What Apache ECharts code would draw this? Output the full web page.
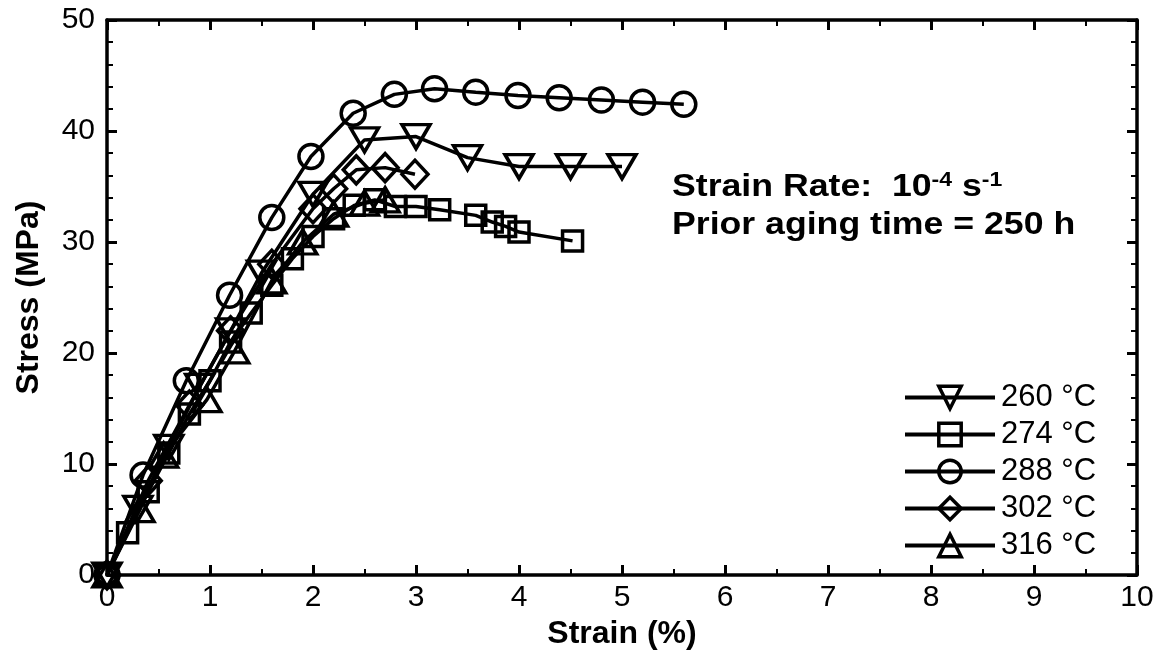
<!DOCTYPE html>
<html>
<head>
<meta charset="utf-8">
<script src="https://cdn.jsdelivr.net/npm/echarts@6/dist/echarts.min.js"></script>
<style>html,body{margin:0;padding:0;background:#fff}#c{width:1162px;height:655px}</style>
</head>
<body>
<div id="c"></div>
<script>
const seriesNames = ['260 °C', '274 °C', '288 °C', '302 °C', '316 °C'];
const s260 = [[0,0],[0.3,6],[0.6,11.5],[0.9,17],[1.2,22],[1.5,27.2],[2.0,34.3],[2.5,39.2],[3.0,39.5],[3.5,37.6],[4.0,36.8],[4.5,36.8],[5.0,36.8]];
const s274 = [[0,0],[0.2,3.8],[0.4,7.5],[0.6,11],[0.8,14.5],[1.0,17.5],[1.2,21],[1.4,23.6],[1.6,26.1],[1.8,28.5],[2.0,30.5],[2.2,32.1],[2.4,33.3],[2.6,33.8],[2.8,33.2],[3.0,33.2],[3.23,32.9],[3.58,32.4],[3.74,31.8],[3.87,31.4],[4.0,30.9],[4.52,30.1]];
const s288 = [[0,0],[0.35,9],[0.77,17.5],[1.19,25.2],[1.6,32.2],[1.98,37.7],[2.39,41.6],[2.79,43.3],[3.18,43.8],[3.58,43.5],[3.99,43.2],[4.39,43.0],[4.8,42.8],[5.2,42.6],[5.6,42.4]];
const s302 = [[0,0],[0.4,8.5],[0.8,15.3],[1.2,22],[1.6,28],[2.0,33],[2.2,34.8],[2.42,36.5],[2.7,36.7],[2.99,36.1]];
const s316 = [[0,0],[0.32,5.9],[0.55,10.8],[0.97,15.8],[1.24,20.2],[1.6,26.5],[1.9,30],[2.2,32.5],[2.5,33.5],[2.7,33.8]];
const xTicks = [0,1,2,3,4,5,6,7,8,9,10];
const yTicks = [0,10,20,30,40,50];

const chart = echarts.init(document.getElementById('c'));
const F = 'Liberation Sans, Arial, sans-serif';
function mk(name, data, symbol, size, rotate) {
  return {
    name: name, type: 'line', data: data, symbol: symbol, symbolSize: size, symbolRotate: rotate || 0,
    showAllSymbol: true, animation: false,
    lineStyle: {color: '#000', width: 3.5},
    itemStyle: {color: 'rgba(255,255,255,0)', borderColor: '#000', borderWidth: 3.5},
    emphasis: {disabled: true}
  };
}
const axLine = {show: true, onZero: false, lineStyle: {color: '#000', width: 3.5}};
const axTick = {show: true, inside: true, length: 10, lineStyle: {color: '#000', width: 3}};
function minor(n) { return {show: true, splitNumber: n, length: 6, lineStyle: {color: '#000', width: 2}}; }
chart.setOption({
  backgroundColor: '#fff',
  animation: false,
  grid: {left: 107, right: 25, top: 20, bottom: 80},
  xAxis: [
    {type: 'value', min: 0, max: 10, interval: 1, position: 'bottom',
      name: 'Strain (%)', nameLocation: 'middle', nameGap: 43,
      nameTextStyle: {fontFamily: F, fontSize: 32, fontWeight: 'bold', color: '#000'},
      axisLabel: {fontFamily: F, fontSize: 30, color: '#000', margin: 8, formatter: v => xTicks.includes(v) ? String(v) : ''},
      axisLine: axLine, axisTick: axTick, minorTick: minor(2), splitLine: {show: false}},
    {type: 'value', min: 0, max: 10, interval: 1, position: 'top', axisLabel: {show: false},
      axisLine: axLine, axisTick: axTick, minorTick: minor(2), splitLine: {show: false}}
  ],
  yAxis: [
    {type: 'value', min: 0, max: 50, interval: 10, position: 'left',
      name: 'Stress (MPa)', nameLocation: 'middle', nameGap: 62, nameRotate: 90,
      nameTextStyle: {fontFamily: F, fontSize: 32, fontWeight: 'bold', color: '#000'},
      axisLabel: {fontFamily: F, fontSize: 30, color: '#000', margin: 12, formatter: v => yTicks.includes(v) ? String(v) : ''},
      axisLine: axLine, axisTick: axTick, minorTick: minor(5), splitLine: {show: false}},
    {type: 'value', min: 0, max: 50, interval: 10, position: 'right', axisLabel: {show: false},
      axisLine: axLine, axisTick: axTick, minorTick: minor(5), splitLine: {show: false}}
  ],
  legend: {
    orient: 'vertical', left: 898, top: 377, itemWidth: 90, itemHeight: 28, itemGap: 6,
    textStyle: {fontFamily: F, fontSize: 31, lineHeight: 28, color: '#000', padding: [0,0,0,1]},
    lineStyle: {width: 4, color: '#000'},
    itemStyle: {borderWidth: 3.5, borderColor: '#000'},
    data: seriesNames, selectedMode: false,
    symbolRotate: 'inherit'
  },
  graphic: [
    {type: 'text', x: 672, y: 170, scaleX: 1.15, style: {
      text: '{a|Strain Rate:  10}{s|-4}{a| s}{s|-1}',
      rich: {
        a: {fontFamily: F, fontSize: 31, fontWeight: 'bold', fill: '#000', lineHeight: 35},
        s: {fontFamily: F, fontSize: 20, fontWeight: 'bold', fill: '#000', verticalAlign: 'top', lineHeight: 35}
      }}},
    {type: 'text', x: 672, y: 210, scaleX: 1.15, style: {
      text: 'Prior aging time = 250 h', fontFamily: F, fontSize: 31, fontWeight: 'bold', fill: '#000'}}
  ],
  series: [
    mk(seriesNames[0], s260, 'triangle', [28, 24], 180),
    mk(seriesNames[1], s274, 'rect', 20),
    mk(seriesNames[2], s288, 'circle', 24),
    mk(seriesNames[3], s302, 'diamond', [26, 28]),
    mk(seriesNames[4], s316, 'triangle', [28, 24])
  ]
});
</script>
</body>
</html>
